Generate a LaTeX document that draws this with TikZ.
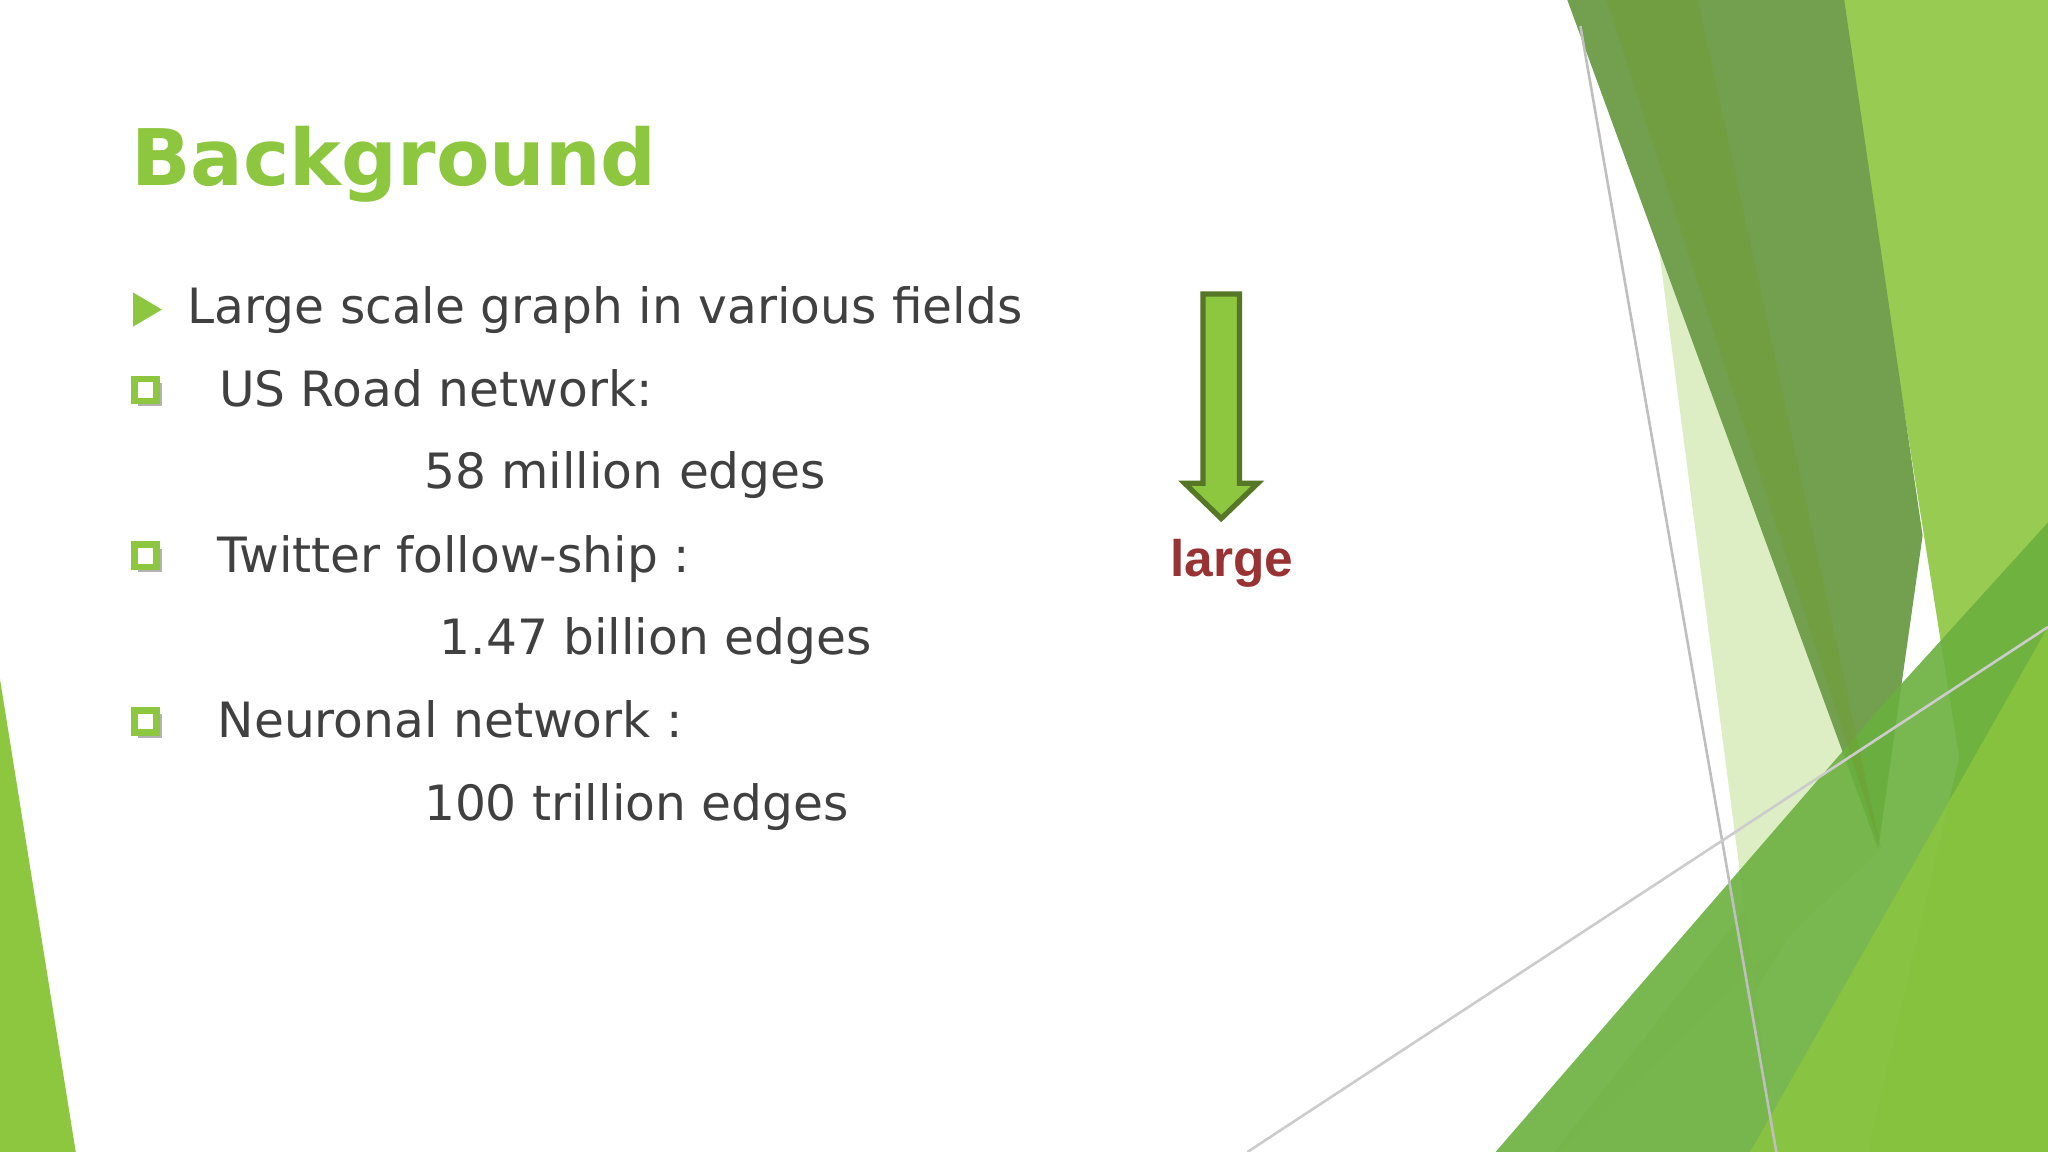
\documentclass[tikz,border=0pt]{standalone}
\usepackage{fontspec}
\setmainfont{DejaVu Sans}
\newfontfamily\arialf{Liberation Sans}
\begin{document}
\begin{tikzpicture}[x=0.1mm,y=-0.1mm,
  body/.style={anchor=base west,inner sep=0,text=txt,font=\fontsize{10.6}{12}\selectfont},
  sqb/.style={draw=bul,line width=0.5mm,fill=white}]
\definecolor{txt}{HTML}{404040}
\definecolor{bul}{HTML}{8DC63F}
\definecolor{g1}{HTML}{73A04F}
\definecolor{g2}{HTML}{8DC63F}
\definecolor{g3}{HTML}{6BB03F}
\definecolor{red1}{HTML}{993333}
\useasboundingbox (0,0) rectangle (1568,882);
\fill[white] (0,0) rectangle (1568,882);
% decorative shapes
\fill[g2!35] (1270,190) -- (1420,590) -- (1190,882) -- (1270,882) -- (1440,600) -- cycle;
\fill[g2!30] (1270,190) -- (1440,650) -- (1195,882) -- (1360,882) -- cycle;
\fill[g2,opacity=0.9] (1408,0) -- (1568,0) -- (1568,882) -- (1430,882) -- (1500,580) -- cycle;
\fill[g1] (1200,0) -- (1412,0) -- (1472,410) -- (1438,650) -- cycle;
\fill[g3,opacity=0.9] (1145,882) -- (1450,530) -- (1568,400) -- (1568,882) -- cycle;
\fill[g2,opacity=0.8] (1340,882) -- (1568,480) -- (1568,882) -- cycle;
\fill[g2!80!black,opacity=0.5] (1230,0) -- (1300,0) -- (1440,650) -- cycle;
\draw[gray!50,line width=0.2mm] (1210,20) -- (1360,882);
\draw[gray!40,line width=0.2mm] (955,882) -- (1568,480);
\fill[g2] (0,520) -- (58,882) -- (0,882) -- cycle;
% title
\node[anchor=base west,inner sep=0,text=bul,font=\bfseries\fontsize{17}{20}\selectfont] (title) at (100,142) {Background};
% bullets
\fill[bul] (102,224) -- (124,237) -- (102,250) -- cycle;
\foreach \yy in {299,426,553}{
  \fill[gray!60] (106,\yy-6) rectangle (124,\yy+12);
  \draw[sqb] (103,\yy-9) rectangle (120,\yy+8);
}
\node[body] (l1) at (143,248) {Large scale graph in various fields};
\node[body] (l2) at (167,311) {US Road network:};
\node[body] (l3) at (324,374) {58 million edges};
\node[body] (l4) at (166,438) {Twitter follow-ship :};
\node[body] (l5) at (336,501) {1.47 billion edges};
\node[body] (l6) at (166,565) {Neuronal network :};
\node[body] (l7) at (324,628) {100 trillion edges};
% arrow
\draw[fill=g2,draw=g2!60!black,line width=0.4mm] (921,225) -- (949,225) -- (949,370) -- (963,370) -- (935,397) -- (907,370) -- (921,370) -- cycle;
\node[anchor=base,inner sep=0,text=red1,font=\arialf\bfseries\fontsize{11.2}{13}\selectfont] (large) at (943,441) {large};
\end{tikzpicture}
\end{document}
